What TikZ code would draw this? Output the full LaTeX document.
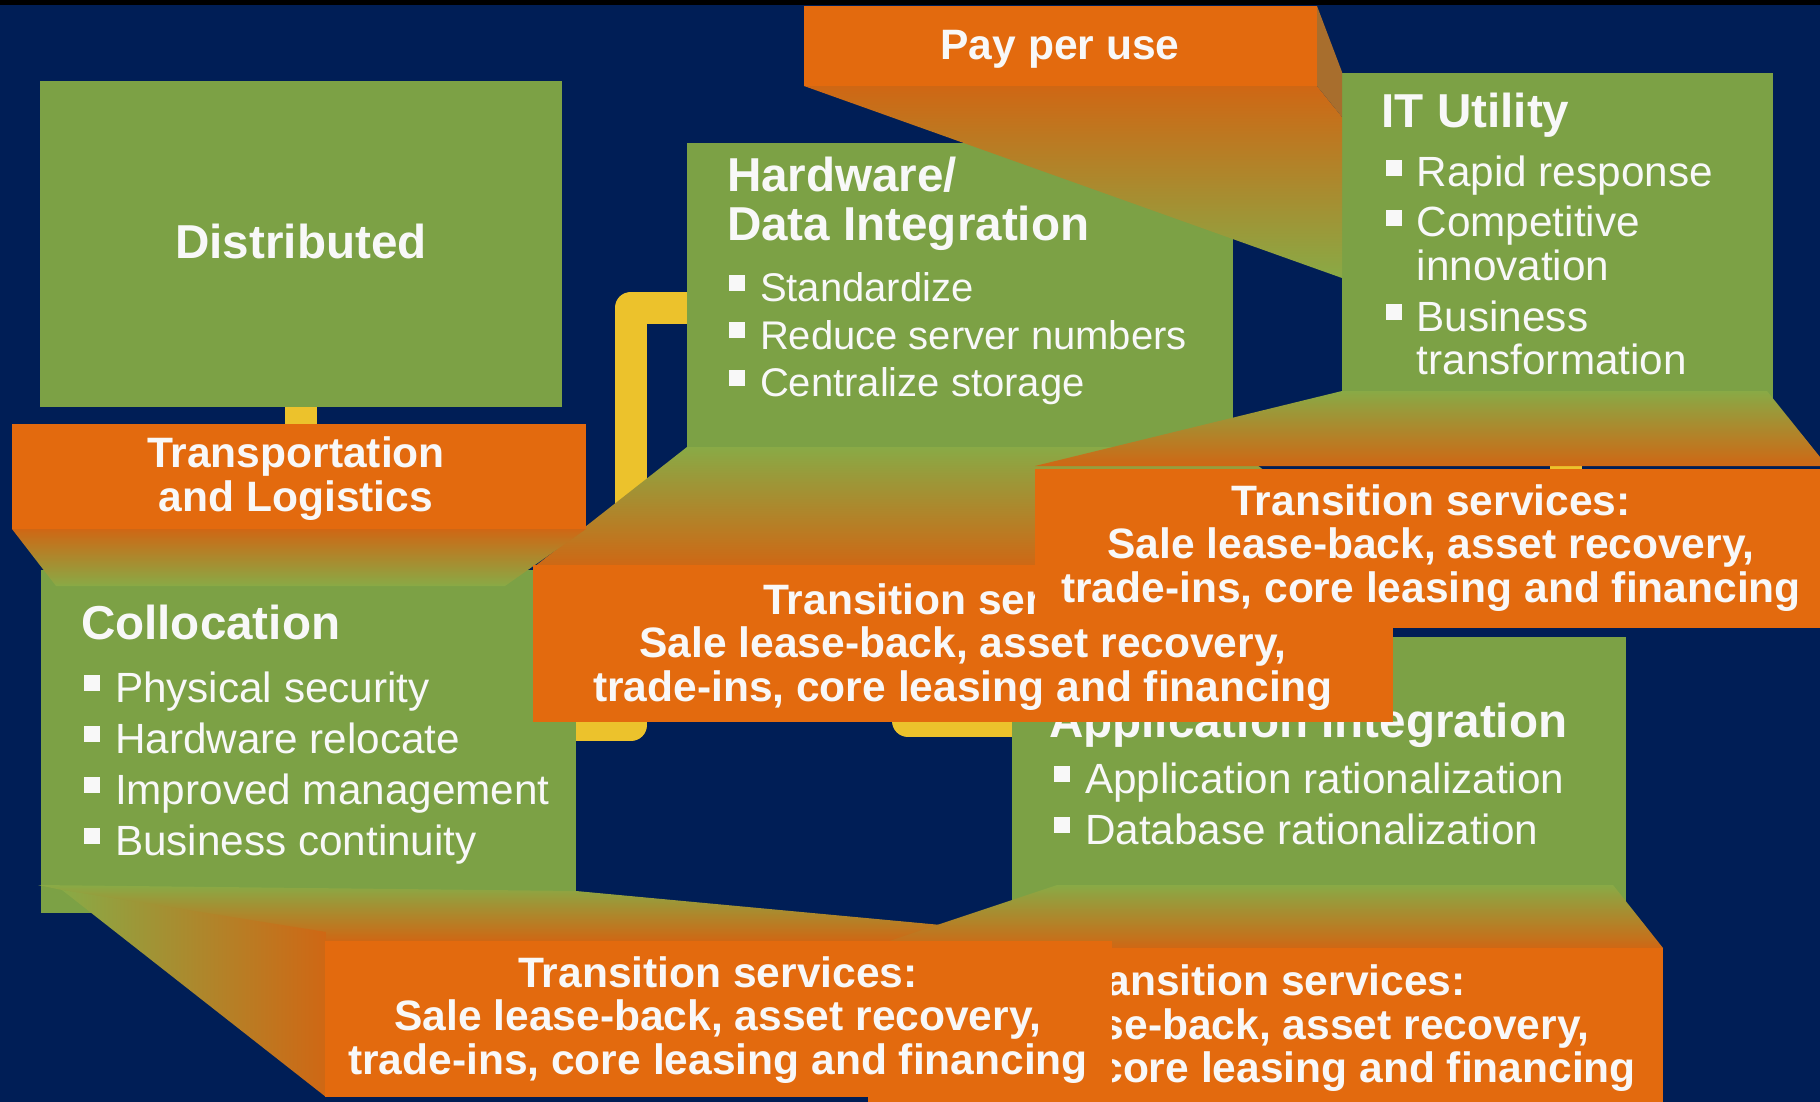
\documentclass[tikz,border=0pt]{standalone}
\usepackage{fontspec}
\setmainfont{Liberation Sans}
\newdimen\PX \PX=0.75pt
\definecolor{navy}{RGB}{0,30,86}
\definecolor{grn}{RGB}{124,161,69}
\definecolor{lgrn}{RGB}{137,170,70}
\definecolor{org}{RGB}{227,106,14}
\definecolor{dorg}{RGB}{207,103,20}
\definecolor{yel}{RGB}{236,194,44}
\definecolor{txt}{RGB}{248,248,248}
\definecolor{side}{RGB}{168,110,45}
\newcommand\bsq{\makebox[31\PX][l]{\rule[11\PX]{16\PX}{16\PX}}}
\newcommand\lstack[2]{\vtop{\baselineskip=#1\PX\lineskiplimit=-100pt #2}}
\newcommand\cstack[2]{\vtop{\baselineskip=#1\PX\lineskiplimit=-100pt\halign{\hfil##\hfil\cr#2\crcr}}}
\newcommand\ftitle{\fontsize{35.7}{37}\selectfont\bfseries}
\newcommand\fbul{\fontsize{31.7}{33}\selectfont}
\newcommand\fbulh{\fontsize{30}{33}\selectfont}
\newcommand\forg{\fontsize{31.9}{33}\selectfont\bfseries}
\pgfdeclarelayer{back}
\pgfdeclarelayer{conn}
\pgfsetlayers{back,conn,main}
\begin{document}
\begin{tikzpicture}[x=0.75pt,y=-0.75pt,
 size/.style 2 args={minimum width={#1*0.75pt},minimum height={#2*0.75pt}},
 box/.style={rectangle,draw=none,inner sep=0pt,outer sep=0pt,anchor=north west},
 gbox/.style={box,fill=grn},
 obox/.style={box,fill=org},
 lbl/.style={inner sep=0pt,outer sep=0pt,text=txt},
 conn/.style={draw=yel,line width=24pt,line join=round,line cap=butt},
 face/.style={top color=lgrn,bottom color=dorg,draw=none},
 rface/.style={top color=dorg,bottom color=lgrn,draw=none}]

\useasboundingbox (0,0) rectangle (1820,1102);
\begin{pgfonlayer}{back}
\fill[navy] (0,0) rectangle (1820,1102);
\fill[black] (0,0) rectangle (1820,5);
\end{pgfonlayer}

% green boxes with their texts
\node[gbox,size={522}{326}] (dist) at (40,81) {};
\node[lbl,anchor=base,font=\ftitle] (distt) at (301,258) {Distributed};

\node[gbox,size={546}{304}] (hw) at (687,143) {};
\node[lbl,anchor=base west,font=\ftitle] (hwt) at (727,191.5) {\lstack{49.5}{\hbox{Hardware/}\hbox{Data Integration}}};
\node[lbl,anchor=base west,font=\fbulh] (hwl) at (729,301.7) {\lstack{47.5}{\hbox{\bsq Standardize}\hbox{\bsq Reduce server numbers}\hbox{\bsq Centralize storage}}};

\node[gbox,size={431}{325}] (itu) at (1342,73) {};
\node[lbl,anchor=base west,font=\ftitle] (itut) at (1381.7,127.7) {IT Utility};
\node[lbl,anchor=base west,font=\fbul] (itul) at (1385.7,186.7) {\lstack{43.3}{\hbox{\bsq Rapid response}\vskip6.7\PX\hbox{\bsq Competitive}\hbox{\hskip31\PX innovation}\vskip8\PX\hbox{\bsq Business}\hbox{\hskip31\PX transformation}}};

\node[gbox,size={535}{343}] (coll) at (41,570) {};
\node[lbl,anchor=base west,font=\ftitle] (collt) at (81,639) {Collocation};
\node[lbl,anchor=base west,font=\fbul] (colll) at (84,702) {\lstack{51}{\hbox{\bsq Physical security}\hbox{\bsq Hardware relocate}\hbox{\bsq Improved management}\hbox{\bsq Business continuity}}};

\node[gbox,size={614}{264}] (app) at (1012,637) {};
\node[lbl,anchor=base west,font=\ftitle] (appt) at (1049,737) {Application Integration};
\node[lbl,anchor=base west,font=\fbul] (appl) at (1054,793.4) {\lstack{51}{\hbox{\bsq Application rationalization}\hbox{\bsq Database rationalization}}};

% yellow connectors (behind the boxes)
\begin{pgfonlayer}{conn}
\coordinate (k1) at (631,725);
\coordinate (k2) at (631,307.5);
\draw[conn] (coll.east |- k1) -- (k1) -- (k2) -- (hw.west |- k2);
\coordinate (k3) at (908,721);
\draw[conn] (hw.south -| k3) -- (k3) -- (app.west |- k3);
\coordinate (k4) at (1566,0);
\end{pgfonlayer}

% extrusion faces
\path[rface] (804,86) -- (1317,86) -- (1342,117) -- (1342,278) -- cycle;
\fill[side] (1317,6) -- (1342,72) -- (1342,117) -- (1317,86) -- cycle;
\path[face] (687,447) -- (1233,447) -- (1393,567) -- (534,567) -- cycle;
\path[face] (1342,391) -- (1767,391) -- (1820,457) -- (1820,466) -- (1035,466) -- cycle;
\path[rface] (12,529) -- (586,529) -- (505,586) -- (56,586) -- cycle;
\path[face] (38,885) -- (576,891) -- (1113,941) -- (324,941) -- (62,890) -- cycle;
\path[left color=lgrn,right color=dorg,draw=none] (62,890) -- (326,932) -- (326,1097) -- cycle;
\path[face] (1057,885) -- (1613,885) -- (1663,948) -- (868,948) -- cycle;

% orange boxes with their texts
\node[obox,size={513}{80}] (pay) at (804,6) {};
\node[lbl,anchor=base,font=\forg] (payt) at (1060,60) {Pay per use};

\node[obox,size={574}{105}] (tl) at (12,424) {};
\node[lbl,anchor=base,font=\forg] (tlt) at (296,467) {\cstack{44}{Transportation\cr and Logistics}};

\node[obox,size={860}{157}] (tr1) at (533,565) {};
\node[lbl,anchor=base,font=\forg] (tr1t) at (963,614) {\cstack{43.5}{Transition services:\cr Sale lease-back, asset recovery,\cr trade-ins, core leasing and financing}};

\node[obox,size={785}{159}] (tr3) at (1035,469) {};
\node[lbl,anchor=base,font=\forg] (tr3t) at (1431,515) {\cstack{43.5}{Transition services:\cr Sale lease-back, asset recovery,\cr trade-ins, core leasing and financing}};

\node[obox,size={795}{154}] (tr5) at (868,948) {};
\node[lbl,anchor=base,font=\forg] (tr5t) at (1266,995.5) {\cstack{43.5}{Transition services:\cr Sale lease-back, asset recovery,\cr trade-ins, core leasing and financing}};

\node[obox,size={787}{156}] (tr4) at (325,941) {};
\node[lbl,anchor=base,font=\forg] (tr4t) at (718,987) {\cstack{43.5}{Transition services:\cr Sale lease-back, asset recovery,\cr trade-ins, core leasing and financing}};

\begin{pgfonlayer}{conn}
\draw[conn] (dist.south) -- (dist.south |- tl.north);
\draw[conn] (itu.south -| k4) -- (tr3.north -| k4);
\end{pgfonlayer}
\end{tikzpicture}
\end{document}
